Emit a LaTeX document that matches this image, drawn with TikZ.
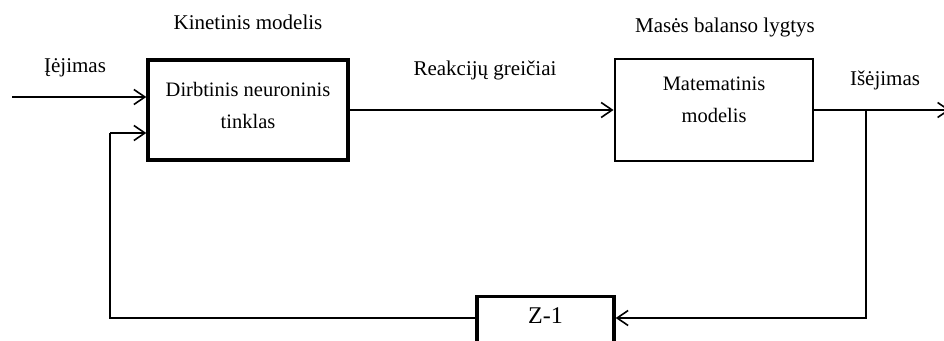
\documentclass[tikz,border=0pt]{standalone}
\usepackage{fontspec}
\setmainfont{Liberation Serif}
\usetikzlibrary{arrows.meta,positioning}

\begin{document}
\begin{tikzpicture}[x=1pt,y=1pt,
    blokas/.style={draw,line width=3.4pt,align=center,
                   font=\fontsize{20.5}{32}\selectfont},
    jungtis/.style={line width=1.6pt},
    rodykle/.style={jungtis,-{Straight Barb[length=11pt,width=15pt,line width=1.6pt]}},
    uzrasas/.style={font=\fontsize{21}{25}\selectfont}]
  \clip (0,0) rectangle (944,340);

  % blokai
  \node[blokas,minimum width=200pt,minimum height=100pt] (tinklas) at (248,230)
    {Dirbtinis neuroninis\\tinklas\\[-22pt]};
  \node[blokas,line width=2.9pt,minimum width=198pt,minimum height=102pt] (modelis) at (714,230)
    {Matematinis\\modelis\\[-12pt]};
  \node[blokas,minimum width=137pt,minimum height=60pt,anchor=north,
        font=\fontsize{24}{28}\selectfont] (vel) at (545.5,45)
    {\raisebox{22pt}{Z-1}};

  % užrašai
  \node[uzrasas] (kin) at (248,318) {Kinetinis modelis};
  \node[uzrasas] (mas) at (725,313) {Masės balanso lygtys};
  \node[uzrasas] (reak) at (485,270) {Reakcijų greičiai};
  \node[uzrasas] (iej) at (75,272) {Įėjimas};
  \node[uzrasas] (isej) at (885,260) {Išėjimas};

  \coordinate (pradzia) at (12,243);
  \coordinate (pabaiga) at (950,230);
  \coordinate (saka) at (866,230);
  \coordinate (apacia) at (866,22);
  \coordinate (kaire) at (110,22);
  \coordinate (virsus) at (110,207);

  % jungtys
  \draw[rodykle] (pradzia) -- (pradzia -| tinklas.west);
  \draw[rodykle] (tinklas.east) -- (modelis.west);
  \draw[rodykle] (modelis.east) -- (pabaiga);
  \draw[rodykle] (saka) -- (apacia) -- (apacia -| vel.east);
  \draw[jungtis] (kaire -| vel.west) -- (kaire) -- (virsus);
  \draw[rodykle] (virsus) -- (virsus -| tinklas.west);
\end{tikzpicture}
\end{document}
